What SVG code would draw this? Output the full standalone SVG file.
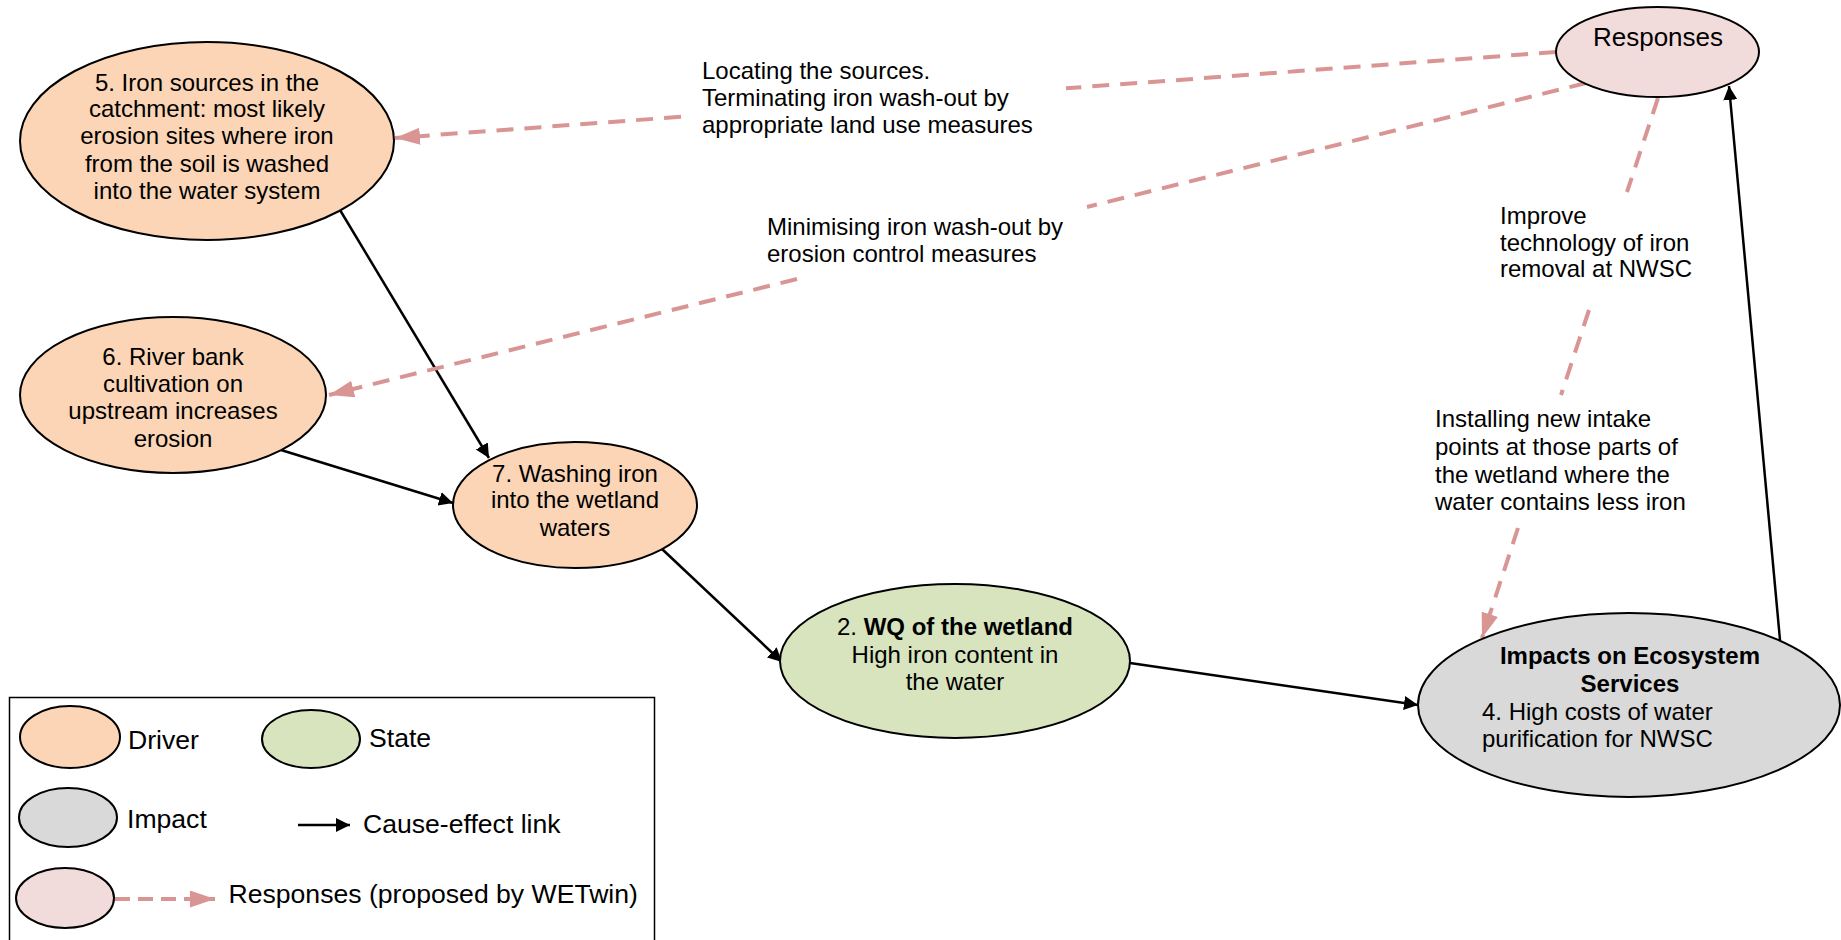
<svg xmlns="http://www.w3.org/2000/svg" width="1841" height="940" viewBox="0 0 1841 940">
<style>
  text { font-family: "Liberation Sans", Arial, sans-serif; fill: #000; }
  .t { font-size: 24px; }
  .c { text-anchor: middle; }
  .b { font-weight: bold; }
  .lg { font-size: 26.6px; }
  .node { stroke: #000; stroke-width: 2; }
  .drv { fill: #FBD5B5; }
  .st { fill: #D7E4BD; }
  .imp { fill: #D9D9D9; }
  .rsp { fill: #F2DCDB; }
  .cause { fill: none; stroke: #000; stroke-width: 2.5; marker-end: url(#ah); }
  .resp { fill: none; stroke: #D99594; stroke-width: 4; stroke-dasharray: 17 11; }
  .respA { marker-end: url(#ahp); }
</style>
<defs>
  <marker id="ah" markerUnits="userSpaceOnUse" markerWidth="16" markerHeight="16" refX="14" refY="7" orient="auto">
    <path d="M0,0 L14,7 L0,14 z" fill="#000"/>
  </marker>
  <marker id="ahp" markerUnits="userSpaceOnUse" markerWidth="28" markerHeight="20" refX="25" refY="8.5" orient="auto">
    <path d="M0,0 L25,8.5 L0,17 z" fill="#D99594"/>
  </marker>
</defs>

<g id="connectors">
  <line class="cause" x1="340" y1="210" x2="489" y2="458"/>
  <line class="cause" x1="281" y1="450" x2="453" y2="503"/>
  <line class="cause" x1="662" y1="549" x2="782" y2="662"/>
  <line class="cause" x1="1130" y1="663" x2="1418" y2="705"/>
  <line class="cause" x1="1780" y1="640" x2="1729" y2="86"/>

  <path class="resp" d="M1556,52 L1066,88.3"/>
  <path class="resp respA" d="M681,116.8 L395,138"/>
  <path class="resp" d="M1586,83 L1087,207"/>
  <path class="resp respA" d="M797,279 L329,395"/>
  <path class="resp" d="M1658,98 L1627,192"/>
  <path class="resp" d="M1589,310 L1561,395"/>
  <path class="resp respA" d="M1518,528 L1482,638"/>
</g>

<g id="node5">
  <ellipse class="node drv" cx="207" cy="141" rx="187" ry="99"/>
  <text class="t c" x="207" y="90.7">5. Iron sources in the</text>
  <text class="t c" x="207" y="117.3">catchment: most likely</text>
  <text class="t c" x="207" y="144.3">erosion sites where iron</text>
  <text class="t c" x="207" y="172">from the soil is washed</text>
  <text class="t c" x="207" y="199">into the water system</text>
</g>

<g id="node6">
  <ellipse class="node drv" cx="173" cy="395" rx="153" ry="78"/>
  <text class="t c" x="173" y="365">6. River bank</text>
  <text class="t c" x="173" y="391.7">cultivation on</text>
  <text class="t c" x="173" y="419">upstream increases</text>
  <text class="t c" x="173" y="446.7">erosion</text>
</g>

<g id="node7">
  <ellipse class="node drv" cx="575" cy="505" rx="122" ry="63"/>
  <text class="t c" x="575" y="481.7">7. Washing iron</text>
  <text class="t c" x="575" y="508.3">into the wetland</text>
  <text class="t c" x="575" y="536">waters</text>
</g>

<g id="node2">
  <ellipse class="node st" cx="955" cy="661" rx="175" ry="77"/>
  <text class="t c" x="955" y="635">2. <tspan class="b">WQ of the wetland</tspan></text>
  <text class="t c" x="955" y="662.7">High iron content in</text>
  <text class="t c" x="955" y="690">the water</text>
</g>

<g id="node4">
  <ellipse class="node imp" cx="1629" cy="705" rx="211" ry="92"/>
  <text class="t c b" x="1630" y="664">Impacts on Ecosystem</text>
  <text class="t c b" x="1630" y="692">Services</text>
  <text class="t" x="1482" y="720">4. High costs of water</text>
  <text class="t" x="1482" y="746.7">purification for NWSC</text>
</g>

<g id="responses">
  <ellipse class="node rsp" cx="1657.5" cy="52" rx="101.5" ry="45"/>
  <text class="c" x="1658" y="45.7" style="font-size:26px">Responses</text>
</g>

<g id="labels">
  <text class="t" x="702" y="79.3">Locating the sources.</text>
  <text class="t" x="702" y="106">Terminating iron wash-out by</text>
  <text class="t" x="702" y="132.7">appropriate land use measures</text>

  <text class="t" x="767" y="235">Minimising iron wash-out by</text>
  <text class="t" x="767" y="261.7">erosion control measures</text>

  <text class="t" x="1500" y="224">Improve</text>
  <text class="t" x="1500" y="250.7">technology of iron</text>
  <text class="t" x="1500" y="277.3">removal at NWSC</text>

  <text class="t" x="1435" y="427.3">Installing new intake</text>
  <text class="t" x="1435" y="455">points at those parts of</text>
  <text class="t" x="1435" y="482.7">the wetland where the</text>
  <text class="t" x="1435" y="510">water contains less iron</text>
</g>

<g id="legend">
  <rect x="9.5" y="697.5" width="645" height="252" fill="#fff" stroke="#000" stroke-width="1.5"/>
  <ellipse class="node drv" cx="70" cy="737" rx="50" ry="31"/>
  <text class="lg" x="128" y="749.3">Driver</text>
  <ellipse class="node st" cx="311" cy="739" rx="49" ry="29"/>
  <text class="lg" x="369" y="747.3">State</text>
  <ellipse class="node imp" cx="68" cy="817.5" rx="49" ry="29.5"/>
  <text class="lg" x="127" y="828.3">Impact</text>
  <line class="cause" x1="298" y1="825" x2="350" y2="825"/>
  <text class="lg" x="363" y="833.3">Cause-effect link</text>
  <ellipse class="node rsp" cx="65" cy="898" rx="49" ry="30"/>
  <path class="resp respA" d="M115,899 L215,899" style="stroke-dasharray:15 8"/>
  <text class="lg" x="228.5" y="903.3">Responses (proposed by WETwin)</text>
</g>
</svg>
